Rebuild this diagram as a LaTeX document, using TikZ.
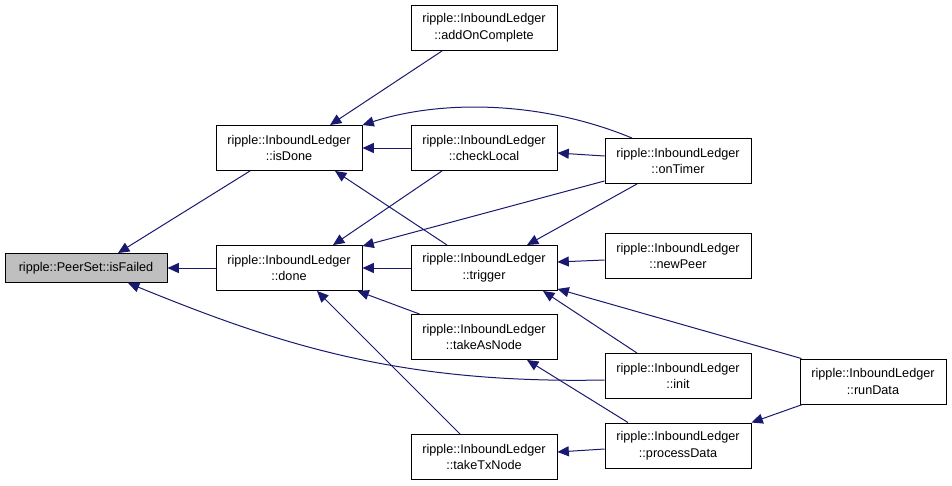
\documentclass[tikz,border=0pt]{standalone}
\usepackage{fontspec}
\setmainfont{Liberation Sans}
\usepackage{tikz}
\usetikzlibrary{arrows.meta,positioning,calc}
\definecolor{edgeblue}{HTML}{191970}
\definecolor{nodegray}{HTML}{BFBFBF}

\begin{document}
\begin{tikzpicture}[x=0.75pt,y=-0.75pt,
    box/.style={draw,line width=0.7pt,minimum width=109.5pt,minimum height=33.75pt,inner sep=1pt,align=center,font=\fontsize{9.5}{12.5}\selectfont},
    call/.style={edgeblue,line width=0.75pt,-{Triangle[length=8.5pt,width=7.5pt]}}]
  \useasboundingbox (0,0) rectangle (952,485);
  \node[box,fill=nodegray,minimum width=121.5pt,minimum height=21.75pt] (isFailed) at (86,268) {ripple::PeerSet::isFailed};
  \node[box] (isDone) at (289,148) {ripple::InboundLedger\\::isDone};
  \node[box] (done) at (289,268) {ripple::InboundLedger\\::done};
  \node[box] (addOnComplete) at (484,28) {ripple::InboundLedger\\::addOnComplete};
  \node[box] (checkLocal) at (484,148) {ripple::InboundLedger\\::checkLocal};
  \node[box] (trigger) at (484,268) {ripple::InboundLedger\\::trigger};
  \node[box] (takeAsNode) at (484,337) {ripple::InboundLedger\\::takeAsNode};
  \node[box] (takeTxNode) at (484,457) {ripple::InboundLedger\\::takeTxNode};
  \node[box] (onTimer) at (678,161) {ripple::InboundLedger\\::onTimer};
  \node[box] (newPeer) at (678,256) {ripple::InboundLedger\\::newPeer};
  \node[box] (init) at (678,376) {ripple::InboundLedger\\::init};
  \node[box] (processData) at (678,445.5) {ripple::InboundLedger\\::processData};
  \node[box] (runData) at (873,381.5) {ripple::InboundLedger\\::runData};

  \draw[call] (done.west) -- (isFailed.east);
  \draw[call] ($(isDone.south)+(-39,0)$) -- ($(isFailed.north)+(32,0)$);
  \draw[call] ($(init.west)+(0,4)$) .. controls (400,384) and (280,345) .. ($(isFailed.south)+(42,0)$);
  \draw[call] ($(addOnComplete.south)+(-42,0)$) -- ($(isDone.north)+(41,0)$);
  \draw[call] ($(onTimer.north)+(-46,0)$) .. controls (540,100) and (440,100) .. (isDone.north east);
  \draw[call] (checkLocal.west) -- (isDone.east);
  \draw[call] ($(trigger.north)+(-37,0)$) -- ($(isDone.south)+(46,0)$);
  \draw[call] ($(onTimer.west)+(0,-5)$) -- ($(checkLocal.east)+(0,5)$);
  \draw[call] ($(checkLocal.south)+(-42,0)$) -- ($(done.north)+(44,0)$);
  \draw[call] ($(onTimer.south west)+(0,-3)$) -- ($(done.north east)+(0,1)$);
  \draw[call] ($(onTimer.south)+(-41,0)$) -- ($(trigger.north)+(43,0)$);
  \draw[call] ($(newPeer.west)+(0,4)$) -- ($(trigger.east)+(0,-6)$);
  \draw[call] (trigger.west) -- (done.west -| done.east);
  \draw[call] ($(takeAsNode.north west)+(9,0)$) -- ($(done.south east)+(-5,0)$);
  \draw[call] ($(takeTxNode.north)+(-24,0)$) -- ($(done.south)+(28,0)$);
  \draw[call] ($(init.north)+(-41,0)$) -- ($(trigger.south)+(59,0)$);
  \draw[call] ($(runData.north west)+(2,0)$) -- ($(trigger.south east)+(0,-2)$);
  \draw[call] ($(processData.north)+(-50,0)$) -- ($(takeAsNode.south)+(43,0)$);
  \draw[call] ($(processData.west)+(0,3.5)$) -- ($(takeTxNode.east)+(0,-5)$);
  \draw[call] ($(runData.south west)+(3,0)$) -- (processData.north east);
\end{tikzpicture}
\end{document}
